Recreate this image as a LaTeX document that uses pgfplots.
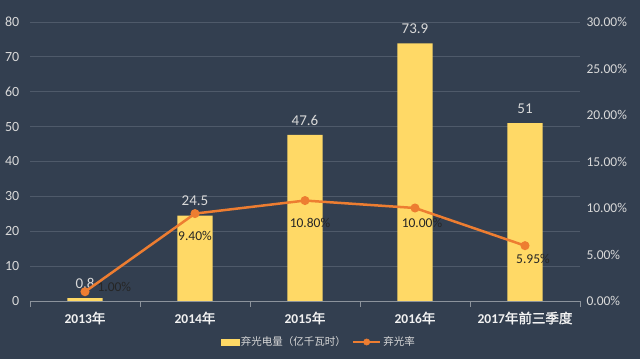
\documentclass[border=0pt]{standalone}
\usepackage{pgfplots}
\pgfplotsset{compat=1.18}
\usepackage{pgfplotstable}
\usepackage{fontspec}
\setmainfont{Carlito}
\newfontfamily\cjk{Noto Sans CJK SC}[AutoFakeBold=2]
\definecolor{bg}{HTML}{333F50}
\definecolor{gridc}{HTML}{4F5A6A}
\definecolor{barc}{HTML}{FFD966}
\definecolor{linec}{HTML}{ED7D31}
\definecolor{lbl}{HTML}{D9D9D9}
\definecolor{xlbl}{HTML}{F2F2F2}
\definecolor{axc}{HTML}{8C939C}

\pgfplotstableread{
x y
0 0.8
1 24.5
2 47.6
3 73.9
4 51
}\bars
\pgfplotstableread{
x y
0 1.00
1 9.40
2 10.80
3 10.00
4 5.95
}\rate

\pgfplotsset{
  ratelbl/.style n args={3}{forget plot, draw=none, mark=none,
    nodes near coords={\pgfmathprintnumber[fixed,fixed zerofill,precision=2]{\pgfplotspointmeta}\%},
    nodes near coords style={text=black!85, font=\fontsize{13.5bp}{15bp}\selectfont, anchor=#1, xshift=#2, yshift=#3}},
}

\begin{document}
\begin{tikzpicture}
\path[use as bounding box, fill=bg] (0,0) rectangle (640bp,359bp);
\begin{axis}[
  at={(30bp,58bp)}, anchor=south west,
  scale only axis, width=550bp, height=279bp,
  xmin=-0.5, xmax=4.5, ymin=0, ymax=80,
  xtick={0,1,2,3,4},
  xticklabels={2013{\cjk 年},2014{\cjk 年},2015{\cjk 年},2016{\cjk 年},2017{\cjk 年前三季度}},
  xtick style={draw=none},
  minor xtick={-0.5,0.5,1.5,2.5,3.5,4.5},
  minor tick length=6bp,
  minor x tick style={draw=axc, line width=0.8bp},
  tick align=outside,
  ytick={0,10,...,80},
  ytick style={draw=none},
  ymajorgrids, grid style={draw=gridc, line width=0.8bp},
  axis x line*=bottom, axis y line*=left,
  x axis line style={draw=axc, line width=0.8bp, -},
  y axis line style={draw=none},
  /pgf/number format/assume math mode=true,
  yticklabel style={text=lbl, font=\fontsize{14bp}{15bp}\selectfont, xshift=-3bp},
  xticklabel style={text=xlbl, font=\bfseries\fontsize{13.5bp}{15bp}\selectfont, yshift=-3bp},
  clip=false,
]
\addplot[ybar, bar width=35bp, fill=barc, draw=none,
  nodes near coords,
  nodes near coords style={text=lbl, font=\fontsize{15bp}{17bp}\selectfont, anchor=south, yshift=6bp},
] table[x=x,y=y] {\bars};
\end{axis}
\begin{axis}[
  at={(30bp,58bp)}, anchor=south west,
  scale only axis, width=550bp, height=279bp,
  xmin=-0.5, xmax=4.5, ymin=0, ymax=30,
  hide x axis,
  axis y line*=right,
  y axis line style={draw=none},
  ytick={0,5,...,30},
  yticklabels={0.00\%,5.00\%,10.00\%,15.00\%,20.00\%,25.00\%,30.00\%},
  ytick style={draw=none},
  yticklabel style={text=lbl, font=\fontsize{13.5bp}{15bp}\selectfont, xshift=3bp},
  clip=false,
  /pgf/number format/assume math mode=true,
  legend style={at={(0.525,-0.147)}, anchor=center, draw=none, fill=none,
    text=lbl, font=\cjk\fontsize{10.5bp}{12bp}\selectfont,
    legend columns=2, /tikz/every even column/.append style={column sep=4bp}},
]
\addlegendimage{legend image code/.code={\fill[barc] (0bp,-3bp) rectangle (18bp,3bp);}}
\addlegendentry{弃光电量（亿千瓦时）}
\addlegendimage{legend image code/.code={\draw[linec, line width=2.5bp] (0bp,0bp) -- (27bp,0bp); \fill[linec] (13.5bp,0bp) circle (3.2bp);}}
\addlegendentry{弃光率}
\addplot[forget plot, draw=linec, line width=2.5bp, mark=*, mark size=3.2bp, mark options={fill=linec, draw=linec}] table[x=x,y=y] {\rate};
\addplot[ratelbl={west}{9bp}{5bp}] coordinates {(0,1.00)};
\addplot[ratelbl={north}{0bp}{-14bp}] coordinates {(1,9.40)};
\addplot[ratelbl={north}{5bp}{-14bp}] coordinates {(2,10.80)};
\addplot[ratelbl={north}{7bp}{-7bp}] coordinates {(3,10.00)};
\addplot[ratelbl={north}{8bp}{-5bp}] coordinates {(4,5.95)};
\end{axis}
\end{tikzpicture}
\end{document}
